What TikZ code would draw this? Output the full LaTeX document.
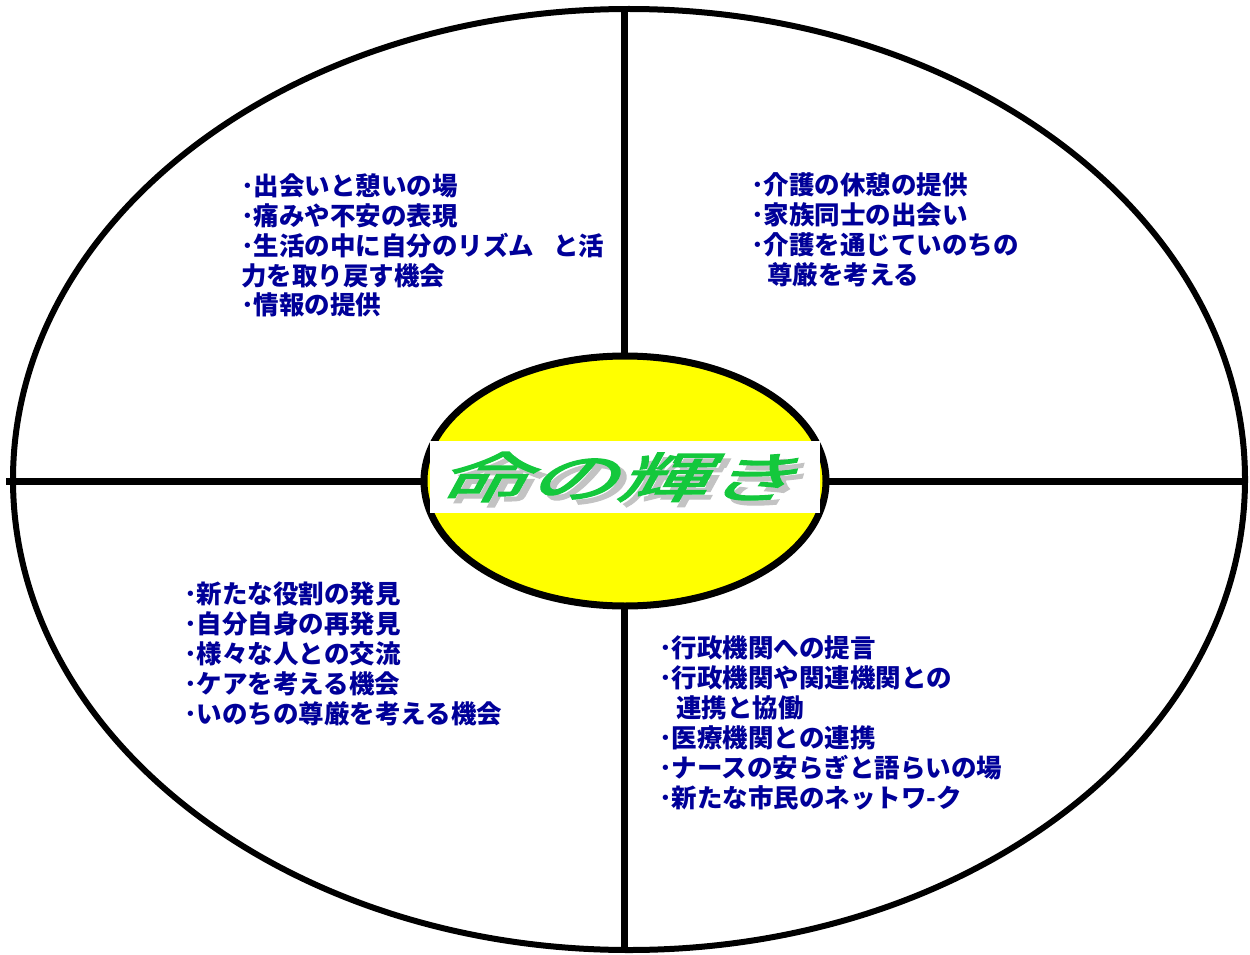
\documentclass[tikz,border=0pt]{standalone}
\usepackage{fontspec}
\usetikzlibrary{shapes.geometric}
\newfontfamily\jp{Noto Sans CJK JP}
\newfontfamily\jpttl{Noto Sans CJK JP}[FakeBold=2.2]
\definecolor{navy}{RGB}{0,0,153}
\definecolor{ttlgreen}{RGB}{20,200,60}
\definecolor{ttlshadow}{RGB}{195,195,195}
\definecolor{ctryellow}{RGB}{255,255,0}
\begin{document}
\begin{tikzpicture}[x=1pt,y=-1pt,
  txt/.style={font=\jp\bfseries\fontsize{25.5}{30}\selectfont, text=navy, anchor=west,
    inner sep=0pt, text height=22.4pt, text depth=3.1pt},
  rim/.style={line width=6pt, draw=black},
  divider/.style={line width=7pt, draw=black},
  ttl/.style={font=\jpttl\fontsize{54}{54}\selectfont, inner sep=0pt, transform shape, xscale=1.66, xslant=0.33}]
\useasboundingbox (0,0) rectangle (1250,955);
\fill[white] (0,0) rectangle (1250,955);
% outer ellipse and dividers
\node[rim, ellipse, minimum width=1232pt, minimum height=941pt, inner sep=0pt] (outer) at (629,479.5) {};
\coordinate (top) at (624,9);
\coordinate (bot) at (624,950);
\coordinate (lft) at (6,481);
\coordinate (rgt) at (1245,481);
\draw[divider] (top) -- (bot);
\draw[divider] (lft) -- (rgt);
% center
\node[line width=7pt, draw=black, fill=ctryellow, ellipse, minimum width=402pt, minimum height=250pt, inner sep=0pt] (core) at (625,481) {};
\fill[white] (430,441) rectangle (820,513);
\begin{scope}[shift={(633,482)}]
  \node[ttl, text=ttlshadow] (shadow) at (0,0) {命の輝き};
\end{scope}
\begin{scope}[shift={(627,477)}]
  \node[ttl, text=ttlgreen] (title) at (0,0) {命の輝き};
\end{scope}
% top-left
\node[txt] (tl1) at (241,186) {･出会いと憩いの場};
\node[txt] (tl2) at (241,216) {･痛みや不安の表現};
\node[txt] (tl3) at (241,246) {･生活の中に自分のリズム\hspace{19pt}と活};
\node[txt] (tl4) at (241,276) {力を取り戻す機会};
\node[txt] (tl5) at (241,305) {･情報の提供};
% top-right
\node[txt] (tr1) at (751,185) {･介護の休憩の提供};
\node[txt] (tr2) at (751,215) {･家族同士の出会い};
\node[txt] (tr3) at (751,245) {･介護を通じていのちの};
\node[txt] (tr4) at (767,275) {尊厳を考える};
% bottom-left
\node[txt] (bl1) at (184,594) {･新たな役割の発見};
\node[txt] (bl2) at (184,624) {･自分自身の再発見};
\node[txt] (bl3) at (184,654) {･様々な人との交流};
\node[txt] (bl4) at (184,684) {･ケアを考える機会};
\node[txt] (bl5) at (184,714) {･いのちの尊厳を考える機会};
% bottom-right
\node[txt] (br1) at (659,648) {･行政機関への提言};
\node[txt] (br2) at (659,678) {･行政機関や関連機関との};
\node[txt] (br3) at (676,708) {連携と協働};
\node[txt] (br4) at (659,738) {･医療機関との連携};
\node[txt] (br5) at (659,768) {･ナースの安らぎと語らいの場};
\node[txt] (br6) at (659,798) {･新たな市民のネットワ-ク};
\end{tikzpicture}
\end{document}
